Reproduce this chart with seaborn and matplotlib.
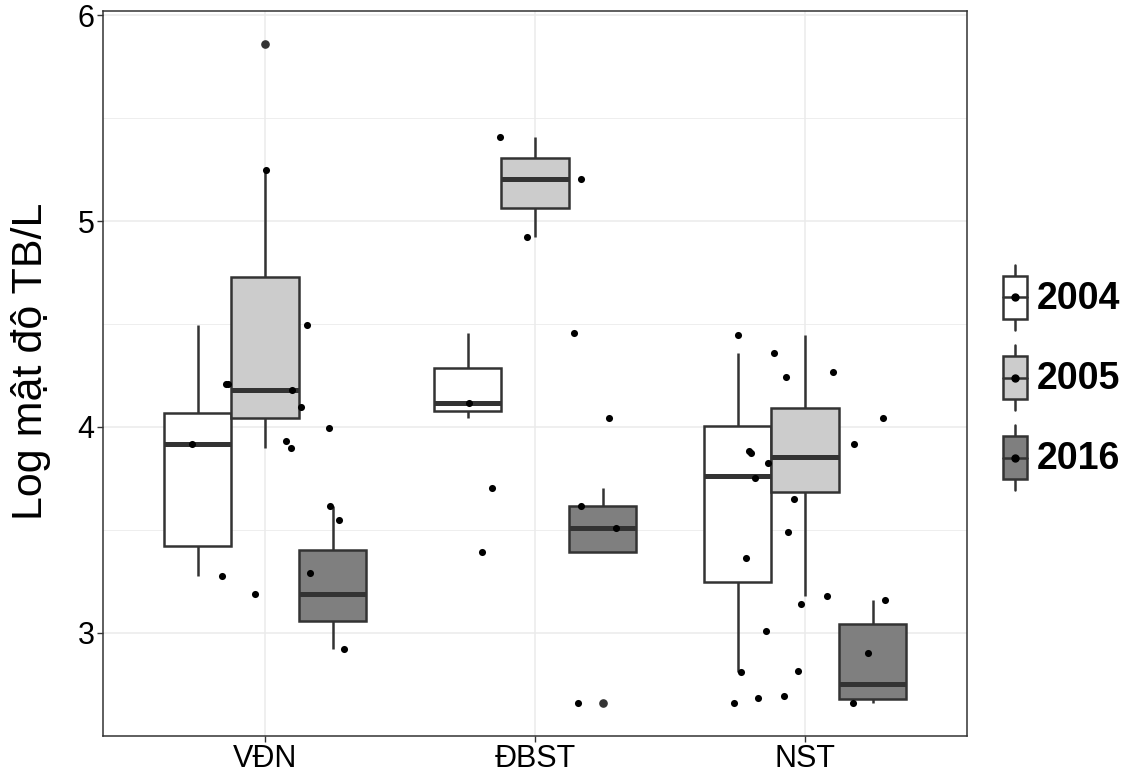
import numpy as np
import pandas as pd
import matplotlib
matplotlib.use("Agg")
import matplotlib.pyplot as plt
import seaborn as sns
from matplotlib.legend_handler import HandlerBase
from matplotlib.patches import Rectangle, Patch
from matplotlib.lines import Line2D
from matplotlib.ticker import MultipleLocator

# ---------------- data ----------------
regions = ["VĐN", "ĐBST", "NST"]
years = ["2004", "2005", "2016"]
fills = ["#FFFFFF", "#CCCCCC", "#7F7F7F"]

vdn_2004 = [3.276, 3.291, 3.548, 3.916, 3.931, 4.207, 4.493]
vdn_2005 = [3.897, 3.994, 4.096, 4.178, 4.207, 5.249, 5.860]
vdn_2016 = [2.922, 3.189, 3.616]
dbst_2004 = [4.042, 4.116, 4.456]
dbst_2005 = [4.924, 5.203, 5.406]
dbst_2016 = [2.661, 3.394, 3.508, 3.617, 3.705]
nst_2004 = [2.808, 2.901, 3.362, 3.648, 3.871, 3.918, 4.265, 4.359]
nst_2005 = [3.179, 3.491, 3.750, 3.823, 3.882, 4.041, 4.244, 4.448]
nst_2016 = [2.659, 2.659, 2.685, 2.691, 2.813, 3.010, 3.139, 3.160]

# horizontal jitter of each point (category units), NaN = point not visible
vdn_2004_jit = [-0.159, 0.167, 0.274, -0.271, 0.078, -0.146, 0.156]
vdn_2005_jit = [0.096, 0.237, 0.133, 0.100, -0.136, 0.004, np.nan]
vdn_2016_jit = [0.293, -0.037, 0.241]
dbst_2004_jit = [0.274, -0.245, 0.145]
dbst_2005_jit = [-0.030, 0.171, -0.130]
dbst_2016_jit = [0.159, -0.197, 0.300, 0.171, -0.159]
nst_2004_jit = [-0.238, 0.233, -0.217, -0.040, -0.199, 0.181, 0.103, -0.113]
nst_2005_jit = [0.082, -0.062, -0.186, -0.138, -0.208, 0.288, -0.072, -0.249]
nst_2016_jit = [-0.264, 0.176, -0.175, -0.076, -0.025, -0.144, -0.016, 0.295]

groups = [
    ("VĐN", "2004", vdn_2004, vdn_2004_jit),
    ("VĐN", "2005", vdn_2005, vdn_2005_jit),
    ("VĐN", "2016", vdn_2016, vdn_2016_jit),
    ("ĐBST", "2004", dbst_2004, dbst_2004_jit),
    ("ĐBST", "2005", dbst_2005, dbst_2005_jit),
    ("ĐBST", "2016", dbst_2016, dbst_2016_jit),
    ("NST", "2004", nst_2004, nst_2004_jit),
    ("NST", "2005", nst_2005, nst_2005_jit),
    ("NST", "2016", nst_2016, nst_2016_jit),
]
rows = []
for reg, yr, vals, jit in groups:
    for v, j in zip(vals, jit):
        rows.append({"region": reg, "year": yr, "value": v, "jit": j})
df = pd.DataFrame(rows)

# ---------------- style ----------------
sns.set_style("white")
plt.rcParams["font.family"] = ["Liberation Sans", "DejaVu Sans"]
plt.rcParams["text.color"] = "black"
dark = "#333333"
grid_c = "#EBEBEB"

fig = plt.figure(figsize=(11.28, 7.76), dpi=100)
ax = fig.add_axes([103 / 1128, 40 / 776, (967 - 103) / 1128, (736 - 11) / 776])

sns.boxplot(
    data=df, x="region", y="value", hue="year",
    order=regions, hue_order=years, palette=dict(zip(years, fills)),
    saturation=1, width=0.75, gap=0, dodge=True, whis=1.5,
    linecolor=dark, linewidth=1.8, fliersize=5.2,
    showcaps=False, legend=False, ax=ax,
    medianprops={"linewidth": 3.6, "color": dark, "solid_capstyle": "butt"},
    flierprops={"marker": "o", "markerfacecolor": dark, "markeredgecolor": dark},
)

# jittered raw points
xpos = df["region"].map({r: i for i, r in enumerate(regions)}) + df["jit"]
ax.scatter(xpos, df["value"], s=26, color="black", linewidths=0, zorder=6)

ax.set_xlim(-0.6, 2.6)
ax.set_ylim(2.499, 6.02)
ax.yaxis.set_major_locator(MultipleLocator(1))
ax.yaxis.set_minor_locator(MultipleLocator(0.5))
ax.set_axisbelow(True)
ax.grid(which="major", color=grid_c, linewidth=1.1)
ax.grid(which="minor", axis="y", color=grid_c, linewidth=0.6)

for s in ax.spines.values():
    s.set_visible(True)
    s.set_color(dark)
    s.set_linewidth(1.1)

ax.tick_params(axis="both", which="major", length=4, width=1, color=dark,
               labelsize=22, labelcolor="black", pad=2, bottom=True, left=True)
ax.tick_params(axis="y", which="minor", length=0)
ax.set_xlabel("")
ax.set_ylabel("Log mật độ TB/L", fontsize=31, color="black")
ax.yaxis.set_label_coords(-0.060, 0.517)


# ---------------- legend with boxplot keys ----------------
class BoxHandler(HandlerBase):
    def create_artists(self, legend, orig_handle, xdescent, ydescent,
                       width, height, fontsize, trans):
        fc = orig_handle.get_facecolor()
        x0, y0 = -xdescent, -ydescent
        cx = x0 + width / 2
        bh = height * 0.65
        by = y0 + (height - bh) / 2
        rect = Rectangle((x0, by), width, bh, facecolor=fc, edgecolor=dark,
                         linewidth=1.8, transform=trans)
        w1 = Line2D([cx, cx], [y0, by], color=dark, lw=1.8, transform=trans)
        w2 = Line2D([cx, cx], [by + bh, y0 + height], color=dark, lw=1.8,
                    transform=trans)
        med = Line2D([x0, x0 + width], [y0 + height / 2] * 2, color=dark,
                     lw=1.8, transform=trans)
        dot = Line2D([cx], [y0 + height / 2], marker="o", markersize=5,
                     color="black", linestyle="none", transform=trans)
        return [w1, w2, rect, med, dot]


handles = [Patch(facecolor=c) for c in fills]
fig.legend(handles, years, handler_map={Patch: BoxHandler()},
           loc="center left", bbox_to_anchor=(1003 / 1128, 1 - 377.5 / 776),
           frameon=False, prop={"weight": "bold", "size": 27},
           labelcolor="black",
           handlelength=0.64, handleheight=2.29, labelspacing=0.4,
           handletextpad=0.25, borderaxespad=0, borderpad=0)

fig.savefig("out.png", dpi=100)
